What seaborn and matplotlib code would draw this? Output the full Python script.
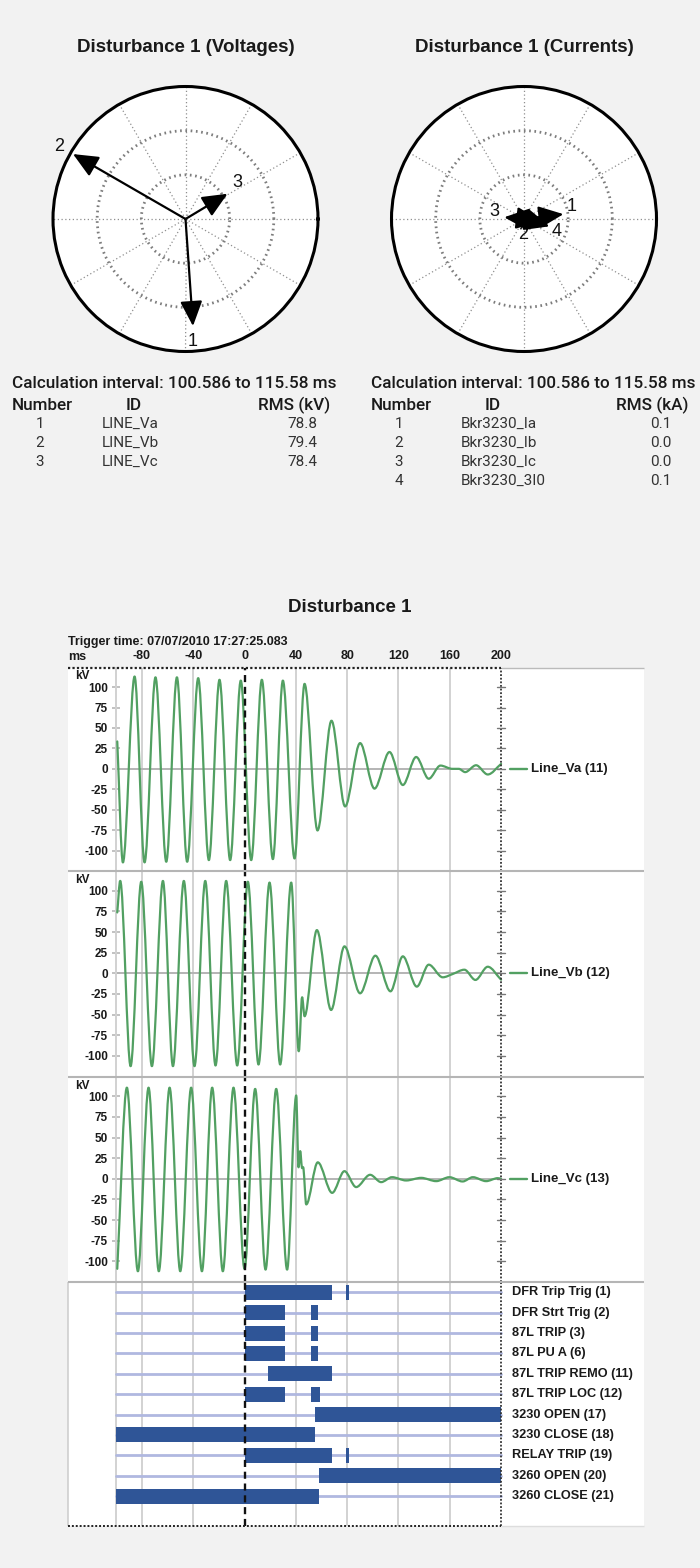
import numpy as np
import pandas as pd
import matplotlib
matplotlib.use('Agg')
import matplotlib.pyplot as plt
from matplotlib.path import Path
from matplotlib.patches import PathPatch
import seaborn as sns

# ---------------- data ----------------
# phasors (angle in degrees, length as fraction of the plot radius)
volt_ids = ['LINE_Va', 'LINE_Vb', 'LINE_Vc']
volt_rms = [78.8, 79.4, 78.4]
volt_angle = [-86, 150, 31]
volt_len = [0.81, 0.98, 0.37]

curr_ids = ['Bkr3230_Ia', 'Bkr3230_Ib', 'Bkr3230_Ic', 'Bkr3230_3I0']
curr_rms = [0.1, 0.0, 0.0, 0.1]
curr_angle = [7, -8, 175, -16]
curr_len = [0.30, 0.13, 0.15, 0.20]

# waveform extrema (ms, kV)
va_t = [-99.2, -94.8, -85.7, -77.9, -69.4, -61.0, -52.7, -44.7, -36.1, -27.8, -19.5, -11.2,
        -2.9, 5.2, 13.5, 22.1, 29.9, 39.0, 46.8, 56.9, 67.8, 78.4, 90.1, 101.3, 113.0,
        123.4, 133.8, 143.6, 152.7, 162.0, 167.0, 172.0, 180.5, 189.6, 200.0]
va_v = [33.5, -114.5, 113, -114.5, 112, -113.7, 112, -113.7, 111, -111.7, 109, -111.7,
        108, -111.7, 109, -110.5, 108, -109.7, 104, -75.4, 58.9, -46.0, 31.5, -24.2, 20.6,
        -19.8, 14.5, -12.1, 4.0, 0.0, 0.0, -4.0, 4.4, -6.9, 6.0]

vb_t = [-99.2, -96.9, -88.8, -80.5, -72.2, -63.6, -55.8, -47.3, -39.0, -30.6, -22.6, -14.3,
        -5.7, 2.6, 10.9, 19.5, 27.8, 36.4, 42.3, 44.9, 46.8, 56.4, 67.5, 77.9, 90.1, 102.0,
        113.8, 123.4, 134.3, 143.6, 154.5, 162.3, 171.4, 180.0, 189.6, 200.0]
vb_v = [73.8, 112, -112.5, 111, -112.5, 112, -112.5, 112, -112.5, 112, -111.7, 112,
        -111.7, 111, -110.5, 110, -110.5, 110, -94.4, -29, -52, 52.4, -44.4, 32.7, -24.2, 21.4,
        -21.8, 20.6, -16.1, 10.5, -4.8, -0.8, 4.4, -8.0, 8.0, -7.7]

vc_t = [-99.2, -91.7, -83.1, -74.8, -66.8, -58.4, -50.1, -41.6, -33.2, -25.2, -16.9, -8.6,
        0.0, 8.3, 16.4, 24.7, 33.2, 40.3, 42.1, 43.4, 44.7, 46.0, 48.1, 57.1, 68.3, 77.9,
        87.0, 97.9, 106.5, 115.0, 126.0, 137.7, 149.4, 159.7, 170.0, 178.0, 188.3, 197.4, 200.0]
vc_v = [-109, 110.5, -112, 110.5, -112, 110.5, -112, 110.5, -112, 110.5, -112, 110.5,
        -109, 109, -110, 109, -110, 101, 14, 33.6, 14, 12, -31, 20, -17, 9.3,
        -10, 4.9, -4, 2, -2, 1.2, -2.8, 2, -3.2, 2, -2.8, 0.8, 0]

analog_names = ['Line_Va (11)', 'Line_Vb (12)', 'Line_Vc (13)']

# digital channels: ON intervals (ms)
dig_names = ['DFR Trip Trig (1)', 'DFR Strt Trig (2)', '87L TRIP (3)', '87L PU A (6)',
             '87L TRIP REMO (11)', '87L TRIP LOC (12)', '3230 OPEN (17)', '3230 CLOSE (18)',
             'RELAY TRIP (19)', '3260 OPEN (20)', '3260 CLOSE (21)']
dig_on = [[(0, 68.3), (79, 81.5)],
          [(0, 31.4), (51.6, 56.9)],
          [(0, 31.4), (51.6, 56.9)],
          [(0, 31.4), (51.6, 56.9)],
          [(18.0, 68.3)],
          [(0, 31.4), (51.6, 58.6)],
          [(55.0, 200)],
          [(-100, 55.0)],
          [(0, 68.3), (79, 81.5)],
          [(58.3, 200)],
          [(-100, 58.3)]]

t_labels = [-80, -40, 0, 40, 80, 120, 160, 200]
grid_t = [-100, -80, -40, 40, 80, 120, 160]
kv_ticks = [100, 75, 50, 25, 0, -25, -50, -75, -100]

# ---------------- styling ----------------
sns.set_theme(style='white')
plt.rcParams['font.family'] = ['Liberation Sans', 'DejaVu Sans']
BG = '#f2f2f2'
GREEN = '#52a062'
BAR = '#2f5597'
BASE = '#b0b8e0'
GRID = '#d2d2d2'
TXT = '#1a1a1a'
TABLE_FONT = ['Roboto', 'Liberation Sans']

W, H = 700, 1568
fig = plt.figure(figsize=(7, 15.68), dpi=100)
fig.patch.set_facecolor(BG)


def fx(x):
    return x / W


def fy(y):
    return 1 - y / H


def axes_px(x0, y0, x1, y1, **kw):
    return fig.add_axes([fx(x0), fy(y1), (x1 - x0) / W, (y1 - y0) / H], **kw)


def smooth_path(t, v):
    # cubic bezier through the read extrema, flat at peaks
    t = np.asarray(t, float)
    v = np.asarray(v, float)
    n = len(t)
    m = np.zeros(n)
    for i in range(n):
        if i == 0:
            m[i] = (v[1] - v[0]) / (t[1] - t[0])
        elif i == n - 1:
            m[i] = (v[-1] - v[-2]) / (t[-1] - t[-2])
        elif (v[i] - v[i - 1]) * (v[i + 1] - v[i]) > 0:
            m[i] = (v[i + 1] - v[i - 1]) / (t[i + 1] - t[i - 1])
    verts = [(t[0], v[0])]
    codes = [Path.MOVETO]
    for i in range(n - 1):
        h = (t[i + 1] - t[i]) / 3
        verts += [(t[i] + h, v[i] + m[i] * h), (t[i + 1] - h, v[i + 1] - m[i + 1] * h),
                  (t[i + 1], v[i + 1])]
        codes += [Path.CURVE4] * 3
    return Path(verts, codes)


# Section 1: phasor diagrams
# ---------------------------
def draw_phasors(cx, title, angles, lengths, lab_r, lab_a):
    R = 132.5
    cy = 219
    ax = axes_px(cx - R, cy - R, cx + R, cy + R, projection='polar')
    ax.set_facecolor('white')
    ax.set_ylim(0, 1)
    ax.set_rticks([1 / 3, 2 / 3])
    ax.set_yticklabels([])
    ax.set_thetagrids(np.arange(0, 360, 30), labels=[])
    ax.yaxis.grid(True, color='#7d7d7d', lw=2.0, ls=(0, (0.6, 1.3)))
    ax.xaxis.grid(True, color='#8f8f8f', lw=0.9, ls=(0, (1, 2)))
    ax.spines['polar'].set_color('black')
    ax.spines['polar'].set_linewidth(2.2)
    ax.tick_params(length=0, pad=0)
    for i, (a, r) in enumerate(zip(angles, lengths)):
        ax.annotate('', xy=(np.radians(a), r), xytext=(0, 0),
                    arrowprops=dict(arrowstyle='-|>,head_length=0.9,head_width=0.4',
                                    color='black', lw=1.6, shrinkA=0, shrinkB=0,
                                    mutation_scale=17))
        ax.text(np.radians(lab_a[i]), lab_r[i], str(i + 1), ha='center', va='center',
                fontsize=13, color='#111')
    fig.text(fx(cx), fy(47), title, ha='center', va='center', fontsize=13.5,
             fontweight='bold', color=TXT)


draw_phasors(185.5, 'Disturbance 1 (Voltages)', volt_angle, volt_len,
             [0.925, 1.1, 0.48], [-86.5, 150, 35])
draw_phasors(524, 'Disturbance 1 (Currents)', curr_angle, curr_len,
             [0.37, 0.12, 0.23, 0.267], [15, -94, 165, -20.6])


# Section 2: RMS tables
# ----------------------
def draw_table(x0, ids, rms, unit):
    head = dict(va='center', fontsize=12.3, color=TXT, family=TABLE_FONT, fontweight='medium')
    body = dict(va='center', fontsize=11, color='#333333', family=TABLE_FONT, fontweight='normal')
    fig.text(fx(x0), fy(383), 'Calculation interval: 100.586 to 115.58 ms', ha='left', **head)
    fig.text(fx(x0), fy(405), 'Number', ha='left', **head)
    fig.text(fx(x0 + 122), fy(405), 'ID', ha='center', **head)
    fig.text(fx(x0 + 318), fy(405), f'RMS ({unit})', ha='right', **head)
    for i, (name, val) in enumerate(zip(ids, rms)):
        y = 424 + 19 * i
        fig.text(fx(x0 + 28), fy(y), str(i + 1), ha='center', **body)
        fig.text(fx(x0 + 90), fy(y), name, ha='left', **body)
        fig.text(fx(x0 + 290), fy(y), f'{val:.1f}', ha='center', **body)


draw_table(12, volt_ids, volt_rms, 'kV')
draw_table(371, curr_ids, curr_rms, 'kA')

# Section 3: waveform panels
# ---------------------------
T_LEFT, T_RIGHT = -137.6, 311.4
X0, X1 = 68, 644
fig.text(fx(350), fy(607), 'Disturbance 1', ha='center', va='center', fontsize=13.5,
         fontweight='bold', color=TXT)
fig.text(fx(68), fy(641.7), 'Trigger time: 07/07/2010 17:27:25.083', ha='left', va='center',
         fontsize=9, fontweight='bold', color=TXT)
fig.text(fx(68), fy(656.7), 'ms', ha='left', va='center', fontsize=9, fontweight='bold',
         color=TXT)

panel_px = [(667.5, 871), (871, 1076.5), (1076.5, 1282)]
waves = [(va_t, va_v), (vb_t, vb_v), (vc_t, vc_v)]


def frame_common(ax):
    ax.set_facecolor('white')
    ax.set_xlim(T_LEFT, T_RIGHT)
    for g in grid_t:
        ax.axvline(g, color=GRID, lw=1.4, zorder=1)
    ax.axvline(0, color='#111', lw=1.7, ls=(0, (3, 2)), zorder=4)
    ax.axvline(200, color='#333', lw=1.3, ls=(0, (1, 1)), zorder=4)
    for s in ['top', 'bottom', 'left', 'right']:
        ax.spines[s].set_visible(False)


for k, ((top, bot), (tt, vv)) in enumerate(zip(panel_px, waves)):
    ax = axes_px(X0, top, X1, bot)
    ax.set_ylim(-125, 124)
    frame_common(ax)
    ax.hlines(0, -100, 200, color='#b4b4b4', lw=1.4, zorder=2)
    ax.add_patch(PathPatch(smooth_path(tt, vv), fill=False, ec=GREEN, lw=1.6, zorder=3,
                           capstyle='round', joinstyle='round'))
    # separators / top border
    if k == 0:
        ax.hlines(124, T_LEFT, 200, color='#222', lw=1.6, ls=(0, (1, 1)), clip_on=False, zorder=5)
        ax.hlines(124, 200, T_RIGHT, color='#bbbbbb', lw=1.0, clip_on=False, zorder=5)
    else:
        ax.hlines(124, T_LEFT, T_RIGHT, color='#b5b5b5', lw=1.5, clip_on=False, zorder=5)
    # y axis at -100 ms and tick marks at 200 ms
    ax.spines['left'].set_visible(True)
    ax.spines['left'].set_position(('data', -100))
    ax.spines['left'].set_color(GRID)
    ax.spines['left'].set_linewidth(1.4)
    ax.set_yticks(kv_ticks)
    ax.set_yticklabels([str(v) for v in kv_ticks], fontweight='bold', fontsize=8.5, color=TXT)
    ax.tick_params(axis='y', left=True, right=False, direction='inout', length=6, width=1.2,
                   color='#b8b8b8', pad=3)
    for v in kv_ticks:
        ax.plot([197, 203], [v, v], color='#777', lw=1.0, zorder=5)
    if k == 0:
        ax.xaxis.tick_top()
        ax.set_xticks(t_labels)
        ax.set_xticklabels([str(t) for t in t_labels], fontweight='bold', fontsize=9, color=TXT)
        ax.tick_params(axis='x', top=True, bottom=False, length=0, pad=4)
    else:
        ax.set_xticks([])
    ax.text(-132, 113, 'kV', ha='left', va='center', fontsize=8.5, fontweight='bold', color=TXT)
    # channel label
    ax.plot([206.7, 220], [0, 0], color=GREEN, lw=1.7, clip_on=False)
    ax.text(223, 0, analog_names[k], ha='left', va='center', fontsize=9.5, fontweight='bold',
            color=TXT)

# Section 4: digital channels
# ----------------------------
axd = axes_px(X0, 1282, X1, 1526)
rows = []
for i, name in enumerate(dig_names):
    rows.append({'t': -100, 'row': i, 'ch': name})
    rows.append({'t': 200, 'row': i, 'ch': name})
base_df = pd.DataFrame(rows)
sns.lineplot(data=base_df, x='t', y='row', units='ch', estimator=None, color=BASE, lw=2,
             ax=axd, legend=False, zorder=2)
axd.set_ylim(11.47, -0.506)
frame_common(axd)
axd.set_xlabel('')
axd.set_ylabel('')
axd.set_xticks([])
axd.set_yticks([])
for i, spans in enumerate(dig_on):
    axd.broken_barh([(s, e - s) for s, e in spans], (i - 0.37, 0.74), facecolors=BAR,
                    edgecolor='none', zorder=3)
    axd.text(208.2, i, dig_names[i], ha='left', va='center', fontsize=9.2, fontweight='bold',
             color=TXT)
axd.hlines(-0.506, T_LEFT, T_RIGHT, color='#b5b5b5', lw=1.5, clip_on=False, zorder=5)
axd.hlines(11.47, T_LEFT, 200, color='#222', lw=1.4, ls=(0, (1, 1)), clip_on=False, zorder=5)
axd.hlines(11.47, 200, T_RIGHT, color='#dddddd', lw=1.0, clip_on=False, zorder=5)
axd.vlines(T_LEFT, -0.506, 11.47, color='#cfcfcf', lw=1.2, clip_on=False)

fig.savefig('out.png', dpi=100, facecolor=BG)
